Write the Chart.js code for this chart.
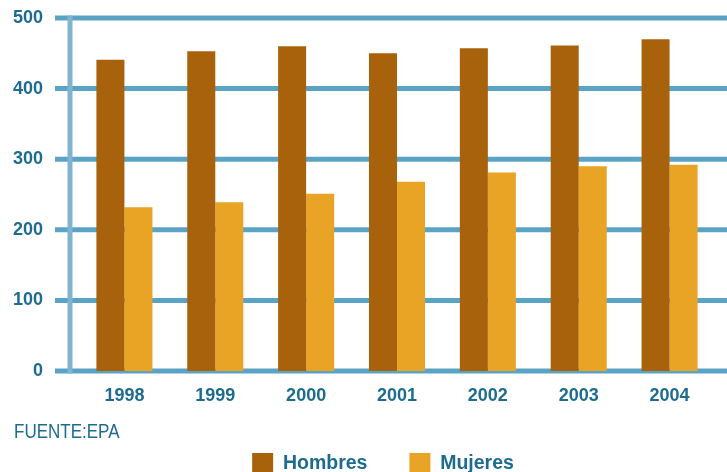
<!DOCTYPE html>
<html lang="es">
<head>
    <meta charset="UTF-8">
    <title>Ocupados por sexo</title>
    <style>
        body {
            margin: 0;
            background-color: #fff;
            overflow: hidden;
        }
        .chart-wrap {
            position: relative;
            width: 727px;
            height: 484px;
        }
        .source {
            position: absolute;
            left: 14px;
            top: 421px;
            font-family: "Liberation Sans", Arial, sans-serif;
            font-size: 20px;
            line-height: 20px;
            color: #1d6b8f;
            transform: scaleX(0.85);
            transform-origin: left center;
        }
    </style>
    <script src="https://cdn.jsdelivr.net/npm/chart.js"></script>
</head>
<body>
    <div class="chart-wrap">
        <canvas id="barChart"></canvas>
        <div class="source">FUENTE:EPA</div>
    </div>
    <script>
        const years = ['1998', '1999', '2000', '2001', '2002', '2003', '2004'];
        const hombres = [441, 453, 460, 450, 457, 461, 470];
        const mujeres = [232, 239, 251, 268, 281, 290, 292];

        const textColor = '#1d6b8f';
        const gridColor = '#5ba3c5';
        const font = 'Arial, "Liberation Sans", sans-serif';

        // thick horizontal lines that run past the plot area, plus the light vertical axis
        const backLines = {
            id: 'backLines',
            beforeDatasetsDraw(chart) {
                const ctx = chart.ctx;
                const y = chart.scales.y;
                ctx.save();
                ctx.lineWidth = 5;
                ctx.strokeStyle = gridColor;
                y.ticks.forEach(t => {
                    const py = y.getPixelForValue(t.value);
                    ctx.beginPath();
                    ctx.moveTo(55, py);
                    ctx.lineTo(chart.width, py);
                    ctx.stroke();
                });
                ctx.strokeStyle = '#7fb3d1';
                ctx.beginPath();
                ctx.moveTo(70, y.getPixelForValue(500) - 2.5);
                ctx.lineTo(70, y.getPixelForValue(0) + 2.5);
                ctx.stroke();
                ctx.restore();
            }
        };

        new Chart(document.getElementById('barChart'), {
            type: 'bar',
            data: {
                labels: years,
                datasets: [
                    { label: 'Hombres', data: hombres, backgroundColor: '#a8620c' },
                    { label: 'Mujeres', data: mujeres, backgroundColor: '#e9a425' }
                ]
            },
            options: {
                responsive: true,
                maintainAspectRatio: false,
                animation: false,
                categoryPercentage: 0.617,
                barPercentage: 1,
                // left padding also nudges the centred legend to the right
                layout: { padding: { left: 51, right: 12, top: 18, bottom: 0 } },
                plugins: {
                    tooltip: { enabled: false },
                    legend: {
                        position: 'bottom',
                        labels: {
                            boxWidth: 21,
                            boxHeight: 21,
                            padding: 42,
                            color: textColor,
                            font: { family: font, size: 19.5, weight: 'bold' }
                        }
                    }
                },
                scales: {
                    x: {
                        grid: { display: false },
                        border: { display: false },
                        ticks: {
                            padding: 6,
                            color: textColor,
                            font: { family: font, size: 18, weight: 'bold' }
                        },
                        afterFit(s) { s.height = 40; }
                    },
                    y: {
                        min: 0,
                        max: 500,
                        grid: { display: false, drawTicks: false },
                        border: { display: false },
                        ticks: {
                            stepSize: 100,
                            mirror: true,
                            crossAlign: 'far',
                            padding: -66,
                            color: textColor,
                            font: { family: font, size: 18, weight: 'bold' }
                        },
                        afterFit(s) { s.width = 28; }
                    }
                }
            },
            plugins: [backLines]
        });
    </script>
</body>
</html>
